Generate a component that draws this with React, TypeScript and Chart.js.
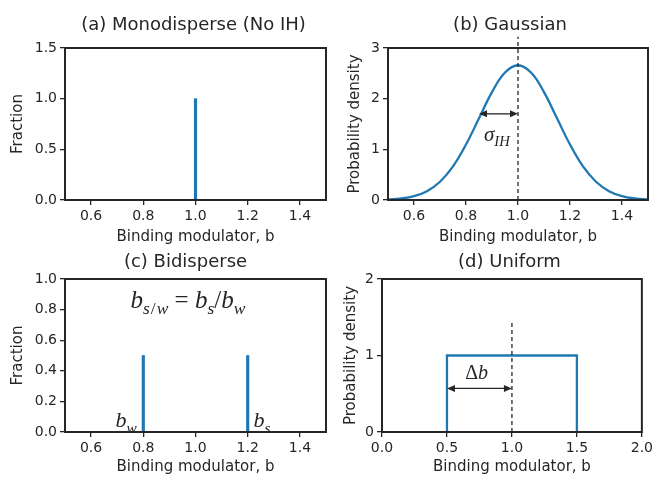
import React, { useEffect, useRef } from "react";
import { Chart, registerables } from "chart.js";

Chart.register(...registerables);

// ---- shared look ----
const BLUE = "#1f77b4";
const INK = "#262626";
const SANS = "'DejaVu Sans', sans-serif";
const SERIF = "'Liberation Serif', 'DejaVu Serif', serif";
const X_LABEL = "Binding modulator, b";

// ---- (a) monodisperse ----
const MONO_B = [1.0];
const MONO_FRACTION = [1.0];
const MONO_X_TICKS = [0.6, 0.8, 1.0, 1.2, 1.4];
const MONO_Y_TICKS = [0, 0.5, 1.0, 1.5];

// ---- (b) gaussian ----
const GAUSS_B = [
  0.5, 0.55, 0.6, 0.65, 0.7, 0.75, 0.8, 0.85, 0.9, 0.95, 1.0,
  1.05, 1.1, 1.15, 1.2, 1.25, 1.3, 1.35, 1.4, 1.45, 1.5,
];
const GAUSS_DENSITY = [
  0.01, 0.03, 0.076, 0.175, 0.36, 0.663, 1.094, 1.613, 2.13, 2.516, 2.66,
  2.516, 2.13, 1.613, 1.094, 0.663, 0.36, 0.175, 0.076, 0.03, 0.01,
];
const GAUSS_MEAN = 1.0;
const GAUSS_SIGMA = 0.15;
const SIGMA_ARROW_Y = 1.7;
const GAUSS_MEAN_LINE_TOP = 3.22;
const SIGMA_LABEL_AT = [0.919, 1.3];
const GAUSS_X_TICKS = [0.6, 0.8, 1.0, 1.2, 1.4];
const GAUSS_Y_TICKS = [0, 1, 2, 3];

// ---- (c) bidisperse ----
const BI_B = [0.8, 1.2];
const BI_FRACTION = [0.5, 0.5];
const BI_X_TICKS = [0.6, 0.8, 1.0, 1.2, 1.4];
const BI_Y_TICKS = [0, 0.2, 0.4, 0.6, 0.8, 1.0];
const RATIO_LABEL_AT = [0.971, 0.863];
const BW_LABEL_AT = [0.734, 0.078];
const BS_LABEL_AT = [1.255, 0.078];

// ---- (d) uniform ----
const UNIFORM_B = [0.5, 0.5, 1.5, 1.5];
const UNIFORM_DENSITY = [0, 1, 1, 0];
const UNIFORM_CENTER = 1.0;
const UNIFORM_HALF_WIDTH = 0.5;
const UNIFORM_CENTER_LINE_TOP = 1.46;
const DELTA_ARROW_Y = 0.57;
const DELTA_LABEL_AT = [0.728, 0.78];
const UNIFORM_X_TICKS = [0, 0.5, 1.0, 1.5, 2.0];
const UNIFORM_Y_TICKS = [0, 1, 2];

type Seg = { t: string; sub?: boolean; up?: boolean; gap?: number };

// Draws a short piece of math-style text (italic serif with subscripts), centred on (cx, cy).
function drawMath(ctx: CanvasRenderingContext2D, segs: Seg[], cx: number, cy: number, size: number) {
  const fontOf = (s: Seg) => `${s.up ? "" : "italic "}${s.sub ? size * 0.7 : size}px ${SERIF}`;
  let total = 0;
  const widths = segs.map((s) => {
    ctx.font = fontOf(s);
    const w = ctx.measureText(s.t).width + (s.gap || 0);
    total += w;
    return w;
  });
  let x = cx - total / 2;
  const base = cy + size * 0.33;
  ctx.save();
  ctx.fillStyle = INK;
  ctx.textAlign = "left";
  ctx.textBaseline = "alphabetic";
  segs.forEach((s, i) => {
    ctx.font = fontOf(s);
    ctx.fillText(s.t, x, s.sub ? base + size * 0.24 : base);
    x += widths[i];
  });
  ctx.restore();
}

function drawDashedV(ctx: CanvasRenderingContext2D, x: number, y0: number, y1: number) {
  ctx.save();
  ctx.strokeStyle = INK;
  ctx.lineWidth = 1.3;
  ctx.setLineDash([4, 3]);
  ctx.beginPath();
  ctx.moveTo(x, y0);
  ctx.lineTo(x, y1);
  ctx.stroke();
  ctx.restore();
}

function drawDoubleArrow(ctx: CanvasRenderingContext2D, x1: number, x2: number, y: number) {
  const head = 8;
  const hw = 3.5;
  ctx.save();
  ctx.strokeStyle = INK;
  ctx.fillStyle = INK;
  ctx.lineWidth = 1.3;
  ctx.beginPath();
  ctx.moveTo(x1 + head * 0.8, y);
  ctx.lineTo(x2 - head * 0.8, y);
  ctx.stroke();
  ctx.beginPath();
  ctx.moveTo(x1, y);
  ctx.lineTo(x1 + head, y - hw);
  ctx.lineTo(x1 + head, y + hw);
  ctx.closePath();
  ctx.fill();
  ctx.beginPath();
  ctx.moveTo(x2, y);
  ctx.lineTo(x2 - head, y - hw);
  ctx.lineTo(x2 - head, y + hw);
  ctx.closePath();
  ctx.fill();
  ctx.restore();
}

type Px = (v: number) => number;

interface PanelSpec {
  key: string;
  left: number;
  top: number;
  width: number;
  height: number;
  type: "bar" | "line";
  datasets: any[];
  title: string;
  titleBlock: number;
  titleY: number;
  titleShift: number;
  yLabel: string;
  yLabelPad: number;
  xMin: number;
  xMax: number;
  yMin: number;
  yMax: number;
  xTicks: number[];
  yTicks: number[];
  xDecimals: number;
  yDecimals: number;
  yAxisWidth: number;
  xAxisHeight: number;
  xLabelPadBottom: number;
  padRight: number;
  annotate?: (ctx: CanvasRenderingContext2D, px: Px, py: Px) => void;
}

const stemDataset = (bs: number[], vals: number[]) => ({
  data: bs.map((b, i) => ({ x: b, y: vals[i] })),
  backgroundColor: BLUE,
  borderWidth: 0,
  barThickness: 2.5,
});

const PANELS: PanelSpec[] = [
  {
    key: "a",
    left: 0,
    top: 0,
    width: 330,
    height: 250,
    type: "bar",
    datasets: [stemDataset(MONO_B, MONO_FRACTION)],
    title: "(a) Monodisperse (No IH)",
    titleBlock: 48,
    titleY: 25.5,
    titleShift: -2,
    yLabel: "Fraction",
    yLabelPad: 9,
    xMin: 0.5,
    xMax: 1.5,
    yMin: 0,
    yMax: 1.5,
    xTicks: MONO_X_TICKS,
    yTicks: MONO_Y_TICKS,
    xDecimals: 1,
    yDecimals: 1,
    yAxisWidth: 65,
    xAxisHeight: 50,
    xLabelPadBottom: 4.3,
    padRight: 4,
  },
  {
    key: "b",
    left: 330,
    top: 0,
    width: 326,
    height: 250,
    type: "line",
    datasets: [
      {
        data: GAUSS_B.map((b, i) => ({ x: b, y: GAUSS_DENSITY[i] })),
        borderColor: BLUE,
        borderWidth: 2.3,
        pointRadius: 0,
        tension: 0.4,
        fill: false,
      },
    ],
    title: "(b) Gaussian",
    titleBlock: 48,
    titleY: 25.5,
    titleShift: -8,
    yLabel: "Probability density",
    yLabelPad: 16,
    xMin: 0.5,
    xMax: 1.5,
    yMin: 0,
    yMax: 3,
    xTicks: GAUSS_X_TICKS,
    yTicks: GAUSS_Y_TICKS,
    xDecimals: 1,
    yDecimals: 0,
    yAxisWidth: 58,
    xAxisHeight: 50,
    xLabelPadBottom: 4.3,
    padRight: 8,
    annotate: (ctx, px, py) => {
      drawDashedV(ctx, px(GAUSS_MEAN), py(0), py(GAUSS_MEAN_LINE_TOP));
      drawDoubleArrow(ctx, px(GAUSS_MEAN - GAUSS_SIGMA), px(GAUSS_MEAN), py(SIGMA_ARROW_Y));
      drawMath(ctx, [{ t: "σ" }, { t: "IH", sub: true }], px(SIGMA_LABEL_AT[0]), py(SIGMA_LABEL_AT[1]), 21);
    },
  },
  {
    key: "c",
    left: 0,
    top: 240,
    width: 330,
    height: 237,
    type: "bar",
    datasets: [stemDataset(BI_B, BI_FRACTION)],
    title: "(c) Bidisperse",
    titleBlock: 39,
    titleY: 22.8,
    titleShift: -10,
    yLabel: "Fraction",
    yLabelPad: 9,
    xMin: 0.5,
    xMax: 1.5,
    yMin: 0,
    yMax: 1.0,
    xTicks: BI_X_TICKS,
    yTicks: BI_Y_TICKS,
    xDecimals: 1,
    yDecimals: 1,
    yAxisWidth: 65,
    xAxisHeight: 45,
    xLabelPadBottom: 1,
    padRight: 4,
    annotate: (ctx, px, py) => {
      drawMath(
        ctx,
        [
          { t: "b" },
          { t: "s", sub: true, gap: 1 },
          { t: "/", sub: true, up: true, gap: 1 },
          { t: "w", sub: true },
          { t: " = ", up: true },
          { t: "b" },
          { t: "s", sub: true },
          { t: "/", up: true },
          { t: "b" },
          { t: "w", sub: true },
        ],
        px(RATIO_LABEL_AT[0]),
        py(RATIO_LABEL_AT[1]),
        25
      );
      drawMath(ctx, [{ t: "b" }, { t: "w", sub: true }], px(BW_LABEL_AT[0]), py(BW_LABEL_AT[1]), 22);
      drawMath(ctx, [{ t: "b" }, { t: "s", sub: true }], px(BS_LABEL_AT[0]), py(BS_LABEL_AT[1]), 22);
    },
  },
  {
    key: "d",
    left: 330,
    top: 240,
    width: 326,
    height: 237,
    type: "line",
    datasets: [
      {
        data: UNIFORM_B.map((b, i) => ({ x: b, y: UNIFORM_DENSITY[i] })),
        borderColor: BLUE,
        borderWidth: 2.3,
        pointRadius: 0,
        tension: 0,
        fill: false,
      },
    ],
    title: "(d) Uniform",
    titleBlock: 39,
    titleY: 22.3,
    titleShift: -2.5,
    yLabel: "Probability density",
    yLabelPad: 12,
    xMin: 0,
    xMax: 2,
    yMin: 0,
    yMax: 2,
    xTicks: UNIFORM_X_TICKS,
    yTicks: UNIFORM_Y_TICKS,
    xDecimals: 1,
    yDecimals: 0,
    yAxisWidth: 52,
    xAxisHeight: 45,
    xLabelPadBottom: 1,
    padRight: 13,
    annotate: (ctx, px, py) => {
      drawDashedV(ctx, px(UNIFORM_CENTER), py(0), py(UNIFORM_CENTER_LINE_TOP));
      drawDoubleArrow(ctx, px(UNIFORM_CENTER - UNIFORM_HALF_WIDTH), px(UNIFORM_CENTER), py(DELTA_ARROW_Y));
      drawMath(ctx, [{ t: "Δ", up: true }, { t: "b" }], px(DELTA_LABEL_AT[0]), py(DELTA_LABEL_AT[1]), 20);
    },
  },
];

// Panel title, matplotlib-style closed frame around the plot area, and the panel's own annotations.
function makeFramePlugin(spec: PanelSpec) {
  return {
    id: "frameAndNotes" + spec.key,
    afterDatasetsDraw(chart: any) {
      const { ctx, chartArea } = chart;
      ctx.save();
      ctx.strokeStyle = INK;
      ctx.lineWidth = 2;
      ctx.strokeRect(chartArea.left, chartArea.top, chartArea.right - chartArea.left, chartArea.bottom - chartArea.top);
      ctx.restore();
    },
    afterDraw(chart: any) {
      const { ctx, chartArea } = chart;
      ctx.save();
      ctx.fillStyle = INK;
      ctx.font = `18px ${SANS}`;
      ctx.textAlign = "center";
      ctx.textBaseline = "middle";
      ctx.fillText(spec.title, (chartArea.left + chartArea.right) / 2 + spec.titleShift, spec.titleY);
      ctx.restore();
      if (!spec.annotate) return;
      const xs = chart.scales.x;
      const ys = chart.scales.y;
      spec.annotate(ctx, (v: number) => xs.getPixelForValue(v), (v: number) => ys.getPixelForValue(v));
    },
  };
}

function buildConfig(spec: PanelSpec): any {
  const tickGrid = {
    display: true,
    drawOnChartArea: false,
    drawTicks: true,
    tickLength: 5,
    tickColor: INK,
    lineWidth: 1.3,
    offset: false,
  };
  return {
    type: spec.type,
    data: { datasets: spec.datasets },
    plugins: [makeFramePlugin(spec)],
    options: {
      responsive: false,
      animation: false,
      devicePixelRatio: 1,
      events: [],
      layout: { padding: { left: 0, right: spec.padRight, top: spec.titleBlock, bottom: 0 } },
      plugins: {
        legend: { display: false },
        tooltip: { enabled: false },
        title: { display: false },
      },
      scales: {
        x: {
          type: "linear",
          min: spec.xMin,
          max: spec.xMax,
          offset: false,
          grid: tickGrid,
          border: { display: false },
          afterBuildTicks: (s: any) => {
            s.ticks = spec.xTicks.map((v) => ({ value: v }));
          },
          afterFit: (s: any) => {
            s.height = spec.xAxisHeight;
          },
          ticks: {
            color: INK,
            font: { family: SANS, size: 14 },
            padding: 3,
            maxRotation: 0,
            autoSkip: false,
            callback: (v: number) => Number(v).toFixed(spec.xDecimals),
          },
          title: {
            display: true,
            text: X_LABEL,
            color: INK,
            font: { family: SANS, size: 15, lineHeight: 1.2 },
            padding: { top: 0, bottom: spec.xLabelPadBottom },
          },
        },
        y: {
          type: "linear",
          min: spec.yMin,
          max: spec.yMax,
          grid: tickGrid,
          border: { display: false },
          afterBuildTicks: (s: any) => {
            s.ticks = spec.yTicks.map((v) => ({ value: v }));
          },
          afterFit: (s: any) => {
            s.width = spec.yAxisWidth;
          },
          ticks: {
            color: INK,
            font: { family: SANS, size: 14 },
            padding: 3,
            autoSkip: false,
            callback: (v: number) => Number(v).toFixed(spec.yDecimals),
          },
          title: {
            display: true,
            text: spec.yLabel,
            color: INK,
            font: { family: SANS, size: 15, lineHeight: 1.2 },
            padding: { top: spec.yLabelPad, bottom: 0 },
          },
        },
      },
    },
  };
}

function Panel({ spec }: { spec: PanelSpec }) {
  const ref = useRef<HTMLCanvasElement | null>(null);
  useEffect(() => {
    if (!ref.current) return;
    const chart = new Chart(ref.current, buildConfig(spec));
    return () => chart.destroy();
  }, [spec]);
  return (
    <canvas
      ref={ref}
      width={spec.width}
      height={spec.height}
      style={{ position: "absolute", left: spec.left, top: spec.top, width: spec.width, height: spec.height }}
    />
  );
}

export default function App() {
  return (
    <div style={{ position: "absolute", left: 0, top: 0, width: 656, height: 477, background: "#ffffff", overflow: "hidden" }}>
      {PANELS.map((p) => (
        <Panel key={p.key} spec={p} />
      ))}
    </div>
  );
}
